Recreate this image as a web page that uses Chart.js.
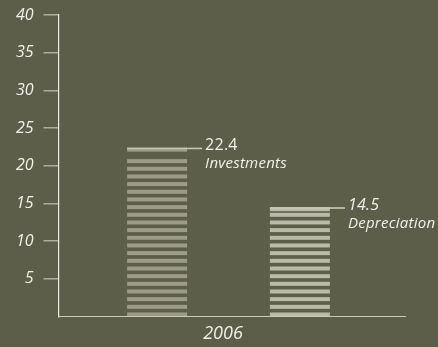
<!DOCTYPE html>
<html>
<head>
<meta charset="utf-8">
<script src="https://cdn.jsdelivr.net/npm/chart.js@4.4.1/dist/chart.umd.min.js"></script>
<style>
  html, body { margin: 0; padding: 0; background: #5c5e4a; }
  #wrap { width: 438px; height: 347px; }
</style>
</head>
<body>
<div id="wrap"><canvas id="myChart" width="438" height="347"></canvas></div>
<script>
const years = ['2006'];
const seriesNames = ['Investments', 'Depreciation'];
const investments = [22.4];
const depreciation = [14.5];
const yTicks = [5, 10, 15, 20, 25, 30, 35, 40];

const FONT = '"Open Sans", "DejaVu Sans", sans-serif';
const TEXT = '#f1f1e9';

// striped bars: thin light cap at the top, then evenly spaced stripes up from the base
const stripedBars = {
    id: 'stripedBars',
    afterDatasetsDraw(chart) {
        const ctx = chart.ctx;
        chart.data.datasets.forEach((ds, i) => {
            chart.getDatasetMeta(i).data.forEach(bar => {
                const left = bar.x - bar.width / 2;
                const top = bar.y;
                const pitch = 7.67, h = 4;
                ctx.save();
                ctx.fillStyle = ds.stripeColor;
                for (let y = bar.base - h; y > top + 4; y -= pitch) {
                    ctx.fillRect(left, y, bar.width, h);
                }
                ctx.fillRect(left, top, bar.width, h);
                ctx.fillStyle = ds.capColor;
                ctx.fillRect(left, top, bar.width, 1.6);
                ctx.restore();
            });
        });
    }
};

// baseline runs a little past the plot area on the right
const baseLine = {
    id: 'baseLine',
    afterDraw(chart) {
        const ctx = chart.ctx;
        const y = chart.scales.y.getPixelForValue(0);
        ctx.save();
        ctx.strokeStyle = '#cbcbbc';
        ctx.lineWidth = 1.2;
        ctx.beginPath();
        ctx.moveTo(chart.chartArea.left, y);
        ctx.lineTo(chart.chartArea.right + 7.5, y);
        ctx.stroke();
        ctx.restore();
    }
};

// leader line with value and series name beside each bar
const barLabels = {
    id: 'barLabels',
    afterDatasetsDraw(chart) {
        const ctx = chart.ctx;
        chart.data.datasets.forEach((ds, i) => {
            const bar = chart.getDatasetMeta(i).data[0];
            const right = bar.x + bar.width / 2;
            const y = bar.y + 0.8;
            ctx.save();
            ctx.strokeStyle = ds.capColor;
            ctx.lineWidth = 1.6;
            ctx.beginPath();
            ctx.moveTo(right, y);
            ctx.lineTo(right + 15, y);
            ctx.stroke();
            ctx.fillStyle = TEXT;
            ctx.textAlign = 'left';
            ctx.textBaseline = 'alphabetic';
            ctx.letterSpacing = '0.25px';
            ctx.font = (ds.valueItalic ? 'italic ' : '') + '16px ' + FONT;
            ctx.fillText(ds.data[0].toFixed(1), right + 18, y + 1.5);
            ctx.font = 'italic 15px ' + FONT;
            ctx.fillText(ds.label, right + 18, y + 20);
            ctx.restore();
        });
    }
};

const myCanvas = document.getElementById('myChart').getContext('2d');

const myChart = new Chart(myCanvas, {
    type: 'bar',
    data: {
        labels: years,
        datasets: [{
            label: seriesNames[0],
            data: investments,
            backgroundColor: 'rgba(0,0,0,0)',
            stripeColor: '#9c9c88',
            capColor: '#c6c6b6',
            valueItalic: false,
        }, {
            label: seriesNames[1],
            data: depreciation,
            backgroundColor: 'rgba(0,0,0,0)',
            stripeColor: '#babaa8',
            capColor: '#cacaba',
            valueItalic: true,
        }],
    },
    options: {
        responsive: false,
        animation: false,
        categoryPercentage: 0.84,
        barPercentage: 0.42,
        layout: {
            padding: { top: 15, right: 39.5, left: 0, bottom: 0 }
        },
        scales: {
            x: {
                afterFit: axis => { axis.height = 30.5; },
                grid: { display: false, drawTicks: false },
                border: { display: false },
                ticks: {
                    color: TEXT,
                    padding: 7,
                    labelOffset: -5.5,
                    font: { size: 18, style: 'italic', family: FONT }
                }
            },
            y: {
                min: 0,
                max: 40,
                afterFit: axis => {
                    axis.width = 58.5;
                    axis.paddingTop = 0;
                    axis.paddingBottom = 0;
                },
                afterBuildTicks: axis => { axis.ticks = yTicks.map(v => ({ value: v })); },
                grid: {
                    drawOnChartArea: false,
                    tickLength: 15,
                    color: '#adad9c',
                    lineWidth: 1.5
                },
                border: { color: '#ececE4', width: 1.2 },
                ticks: {
                    color: TEXT,
                    padding: 10,
                    font: { size: 16, style: 'italic', family: FONT }
                }
            }
        },
        plugins: {
            legend: { display: false },
            tooltip: { enabled: false }
        }
    },
    plugins: [stripedBars, barLabels, baseLine]
});
</script>
</body>
</html>
